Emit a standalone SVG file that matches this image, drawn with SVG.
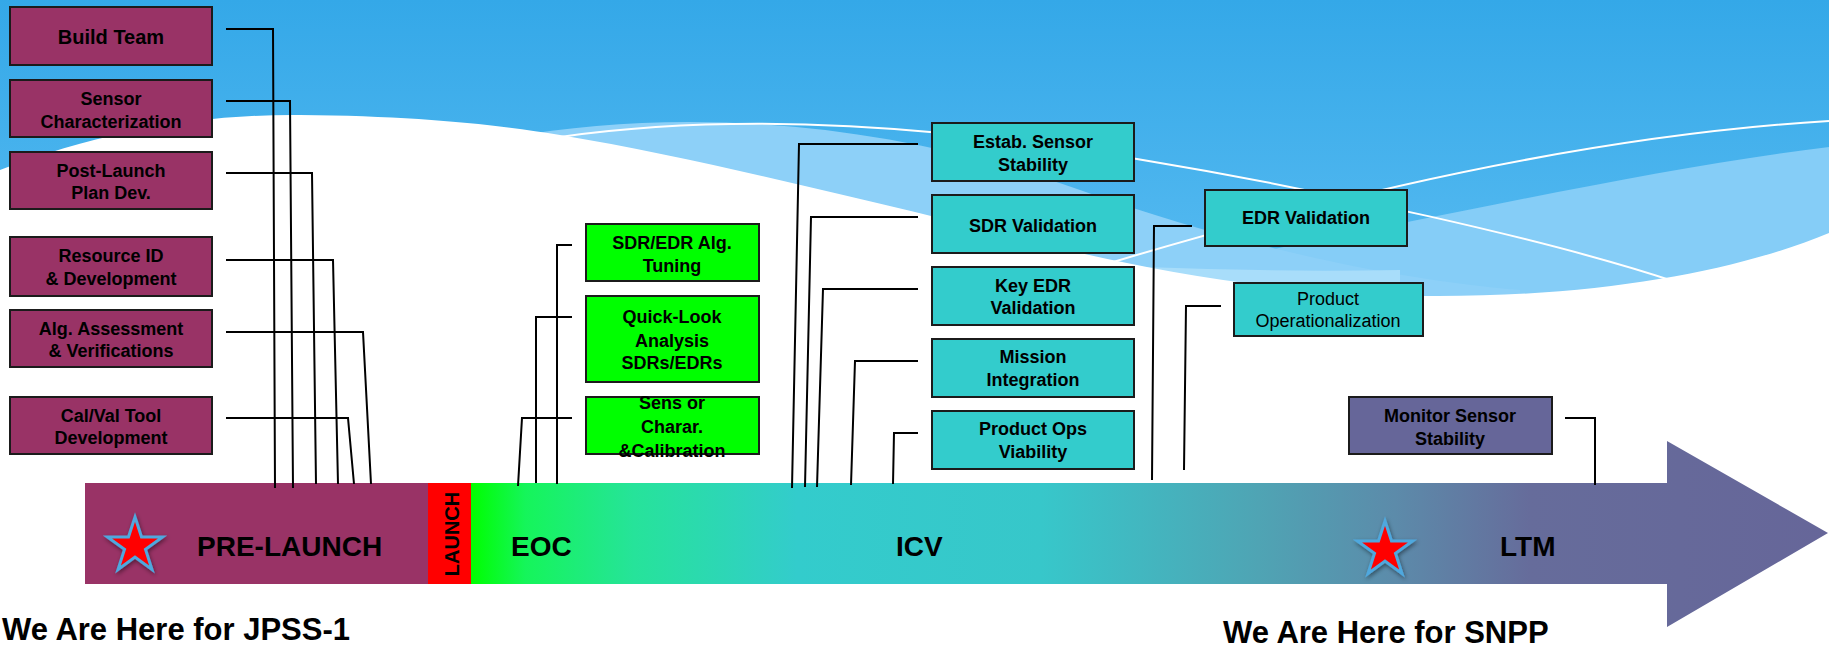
<svg xmlns="http://www.w3.org/2000/svg" width="1829" height="648" viewBox="0 0 1829 648">
<defs>
<style>
.box rect{stroke:#1b1b1b;stroke-width:2}
.pre rect{fill:#993366}
.grn rect{fill:#00FF00}
.cyn rect{fill:#33CCCC}
.pur rect{fill:#666699}
text{font-family:"Liberation Sans",Arial,sans-serif;fill:#000}
.t{font-size:18px;font-weight:bold;text-anchor:middle}
.r{font-size:18px;font-weight:normal;text-anchor:middle}
.big{font-size:28px;font-weight:bold}
.here{font-size:31px;font-weight:bold}
#connectors path{fill:none;stroke:#000;stroke-width:2}
.wl{fill:none;stroke:#ffffff;stroke-width:2}
</style>
<linearGradient id="sky" x1="0" y1="0" x2="0" y2="1">
<stop offset="0" stop-color="#34A8E8"/>
<stop offset="0.5" stop-color="#5BBDF2"/>
<stop offset="1" stop-color="#74C8F7"/>
</linearGradient>
<linearGradient id="barg" gradientUnits="userSpaceOnUse" x1="471" y1="0" x2="1829" y2="0">
<stop offset="0" stop-color="#00FF00"/>
<stop offset="0.04" stop-color="#15F55A"/>
<stop offset="0.12" stop-color="#26E39A"/>
<stop offset="0.24" stop-color="#33CCCC"/>
<stop offset="0.42" stop-color="#37C7CA"/>
<stop offset="0.58" stop-color="#4FA4B4"/>
<stop offset="0.68" stop-color="#5C8BAA"/>
<stop offset="0.78" stop-color="#666C9B"/>
<stop offset="1" stop-color="#666699"/>
</linearGradient>
<filter id="sh" x="-30%" y="-30%" width="160%" height="160%">
<feDropShadow dx="1" dy="2" stdDeviation="2" flood-color="#000" flood-opacity="0.45"/>
</filter>
<path id="star" d="M0,-29 L6.5,-9 L27.6,-9 L10.5,3.4 L17,23.5 L0,11.1 L-17,23.5 L-10.5,3.4 L-27.6,-9 L-6.5,-9 Z" fill="#FF0000" stroke="#4FA8DE" stroke-width="3" stroke-linejoin="miter"/>
</defs>

<!-- background -->
<rect x="0" y="0" width="1829" height="648" fill="url(#sky)"/>
<path d="M1000,300 C1300,250 1600,175 1829,147 L1829,648 L1000,648 Z" fill="#85CDF7"/>
<path d="M470,145 C650,105 870,115 1080,190 C1250,250 1400,280 1520,290 L1520,648 L470,648 Z" fill="#8DD0F8"/>
<path d="M520,200 C800,250 1100,275 1400,270 L1400,648 L520,648 Z" fill="#A8DDFA"/>
<path d="M0,170 C100,132 200,114 300,115 C420,116 500,125 560,135 C680,155 800,185 915,212 C1050,245 1200,292 1420,296 C1600,298 1740,270 1829,233 L1829,648 L0,648 Z" fill="#FFFFFF"/>
<path class="wl" d="M560,137 C750,110 950,128 1137,159 S1550,240 1676,282"/>
<path class="wl" d="M1100,266 C1350,190 1600,135 1829,121"/>

<!-- timeline arrow -->
<g id="timeline">
<rect x="85" y="483" width="343" height="101" fill="#993366"/>
<rect x="428" y="483" width="43" height="101" fill="#FF0000"/>
<path d="M471,483 L1667,483 L1667,441 L1828,533 L1667,627 L1667,584 L471,584 Z" fill="url(#barg)"/>
<text class="big" x="197" y="556">PRE-LAUNCH</text>
<text x="459" y="534" transform="rotate(-90 459 534)" style="font-size:20px;font-weight:bold;text-anchor:middle">LAUNCH</text>
<text class="big" x="511" y="556">EOC</text>
<text class="big" x="896" y="556">ICV</text>
<text class="big" x="1500" y="556">LTM</text>
<use href="#star" x="135" y="546" filter="url(#sh)"/>
<use href="#star" x="1385" y="550" filter="url(#sh)"/>
</g>

<text class="here" x="2" y="640">We Are Here for JPSS-1</text>
<text class="here" x="1223" y="643">We Are Here for SNPP</text>

<!-- connectors -->
<g id="connectors">
<path d="M226,29 H273 L275,488"/>
<path d="M226,101 H290 L293,488"/>
<path d="M226,173 H312 L316,484"/>
<path d="M226,260 H333 L338,484"/>
<path d="M226,332 H363 L371,484"/>
<path d="M226,418 H348 L354,484"/>
<path d="M572,245 H557 V484"/>
<path d="M572,317 H536 V483"/>
<path d="M572,418 H522 L518,486"/>
<path d="M918,144 H799 L792,488"/>
<path d="M918,217 H811 L805,487"/>
<path d="M918,289 H823 L817,487"/>
<path d="M918,361 H855 L851,485"/>
<path d="M918,433 H894 L893,484"/>
<path d="M1192,226 H1154 L1152,480"/>
<path d="M1221,306 H1186 L1184,470"/>
<path d="M1565,418 H1595 V485"/>
</g>

<!-- pre-launch nodes -->
<g id="build-team" class="box pre"><rect x="10" y="7" width="202" height="58"/><text class="t" x="111" y="44" style="font-size:20px">Build Team</text></g>
<g id="sensor-char" class="box pre"><rect x="10" y="80" width="202" height="57"/><text class="t" x="111" y="105">Sensor</text><text class="t" x="111" y="128">Characterization</text></g>
<g id="post-launch" class="box pre"><rect x="10" y="152" width="202" height="57"/><text class="t" x="111" y="177">Post-Launch</text><text class="t" x="111" y="199">Plan Dev.</text></g>
<g id="resource-id" class="box pre"><rect x="10" y="237" width="202" height="59"/><text class="t" x="111" y="262">Resource ID</text><text class="t" x="111" y="285">&amp;  Development</text></g>
<g id="alg-assess" class="box pre"><rect x="10" y="310" width="202" height="57"/><text class="t" x="111" y="335">Alg. Assessment</text><text class="t" x="111" y="357">&amp; Verifications</text></g>
<g id="calval-tool" class="box pre"><rect x="10" y="397" width="202" height="57"/><text class="t" x="111" y="422">Cal/Val Tool</text><text class="t" x="111" y="444">Development</text></g>

<!-- EOC nodes -->
<g id="alg-tuning" class="box grn"><rect x="586" y="224" width="173" height="57"/><text class="t" x="672" y="249">SDR/EDR Alg.</text><text class="t" x="672" y="272">Tuning</text></g>
<g id="quick-look" class="box grn"><rect x="586" y="296" width="173" height="86"/><text class="t" x="672" y="323">Quick-Look</text><text class="t" x="672" y="347">Analysis</text><text class="t" x="672" y="369">SDRs/EDRs</text></g>
<g id="sensor-cal" class="box grn"><rect x="586" y="397" width="173" height="57"/><text class="t" x="672" y="409">Sens or</text><text class="t" x="672" y="433">Charar.</text><text class="t" x="672" y="457">&amp;Calibration</text></g>

<!-- ICV nodes -->
<g id="estab-stability" class="box cyn"><rect x="932" y="123" width="202" height="58"/><text class="t" x="1033" y="148">Estab. Sensor</text><text class="t" x="1033" y="171">Stability</text></g>
<g id="sdr-validation" class="box cyn"><rect x="932" y="195" width="202" height="58"/><text class="t" x="1033" y="232">SDR Validation</text></g>
<g id="key-edr" class="box cyn"><rect x="932" y="267" width="202" height="58"/><text class="t" x="1033" y="292">Key EDR</text><text class="t" x="1033" y="314">Validation</text></g>
<g id="mission-int" class="box cyn"><rect x="932" y="339" width="202" height="58"/><text class="t" x="1033" y="363">Mission</text><text class="t" x="1033" y="386">Integration</text></g>
<g id="product-ops" class="box cyn"><rect x="932" y="411" width="202" height="58"/><text class="t" x="1033" y="435">Product Ops</text><text class="t" x="1033" y="458">Viability</text></g>
<g id="edr-validation" class="box cyn"><rect x="1205" y="190" width="202" height="56"/><text class="t" x="1306" y="224">EDR Validation</text></g>
<g id="product-opz" class="box cyn"><rect x="1234" y="283" width="189" height="53"/><text class="r" x="1328" y="305">Product</text><text class="r" x="1328" y="327">Operationalization</text></g>

<!-- LTM node -->
<g id="monitor-stability" class="box pur"><rect x="1349" y="397" width="203" height="57"/><text class="t" x="1450" y="422">Monitor Sensor</text><text class="t" x="1450" y="445">Stability</text></g>
</svg>
